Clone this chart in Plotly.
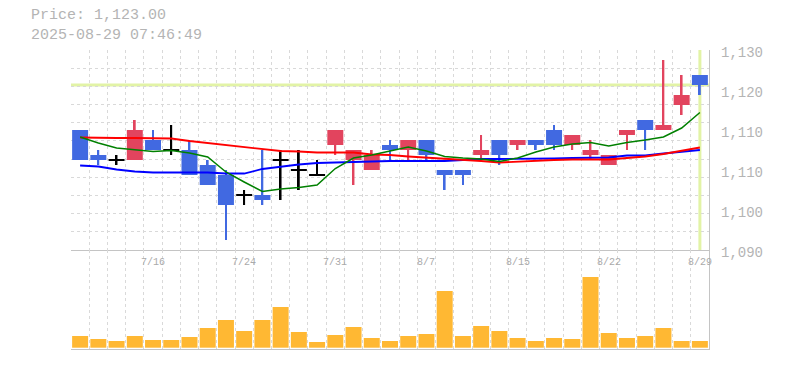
import plotly.graph_objects as go

# ---------------- data ----------------
DATES = ["7/10", "7/11", "7/14", "7/15", "7/16", "7/17", "7/18", "7/22", "7/23", "7/24",
         "7/25", "7/28", "7/29", "7/30", "7/31", "8/1", "8/4", "8/5", "8/6", "8/7",
         "8/8", "8/12", "8/13", "8/14", "8/15", "8/18", "8/19", "8/20", "8/21", "8/22",
         "8/25", "8/26", "8/27", "8/28", "8/29"]

OPEN = [1114, 1109, 1108, 1108, 1112, 1110, 1110, 1107, 1105, 1101,
        1101, 1108, 1106, 1105, 1111, 1108, 1106, 1111, 1110, 1112,
        1106, 1106, 1109, 1112, 1111, 1112, 1114, 1111, 1109, 1107,
        1113, 1116, 1114, 1119, 1125]
HIGH = [1114, 1110, 1109, 1116, 1114, 1115, 1112, 1108, 1106, 1102,
        1110, 1110, 1110, 1108, 1114, 1110, 1110, 1112, 1112, 1112,
        1106, 1106, 1113, 1112, 1112, 1112, 1115, 1113, 1112, 1109,
        1114, 1116, 1128, 1125, 1125]
LOW = [1108, 1107, 1107, 1108, 1110, 1109, 1105, 1103, 1092, 1099,
       1099, 1100, 1102, 1105, 1109, 1103, 1106, 1108, 1108, 1108,
       1102, 1103, 1108, 1107, 1110, 1110, 1110, 1110, 1108, 1107,
       1110, 1110, 1114, 1117, 1121]
CLOSE = [1108, 1108, 1108, 1114, 1110, 1110, 1105, 1103, 1099, 1101,
         1100, 1108, 1106, 1105, 1114, 1110, 1109, 1110, 1112, 1109,
         1105, 1105, 1110, 1109, 1112, 1111, 1111, 1113, 1110, 1109,
         1114, 1114, 1115, 1121, 1123]

VOLUME = [11.7, 8.7, 6.7, 11.7, 7.7, 7.7, 10.7, 19.7, 27.7, 16.7,
          27.7, 40.7, 15.7, 5.7, 12.7, 20.7, 9.7, 6.7, 11.7, 13.7,
          56.7, 11.7, 21.7, 16.7, 9.7, 6.7, 9.7, 8.7, 70.7, 14.7,
          9.7, 11.7, 19.7, 6.7, 6.7]

MA_GREEN = [1112.6, 1111.4, 1110.4, 1110.0, 1109.7, 1109.9, 1109.4, 1108.6, 1105.6, 1103.6,
            1101.7, 1102.2, 1102.5, 1103.0, 1106.3, 1108.4, 1109.0, 1109.8, 1110.6, 1109.8,
            1108.7, 1108.4, 1108.2, 1107.7, 1108.4, 1109.6, 1110.6, 1111.2, 1111.5, 1110.8,
            1111.5, 1112.0, 1112.6, 1114.4, 1117.5]
MA_RED = [1112.5, 1112.4, 1112.4, 1112.4, 1112.4, 1112.3, 1111.8, 1111.4, 1110.9, 1110.5,
          1110.1, 1109.8, 1109.7, 1109.5, 1109.5, 1109.5, 1109.1, 1109.0, 1108.7, 1108.5,
          1108.3, 1108.0, 1107.8, 1107.5, 1107.7, 1107.8, 1108.0, 1108.1, 1108.1, 1108.1,
          1108.4, 1108.7, 1109.2, 1109.9, 1110.5]
MA_BLUE = [1106.9, 1106.7, 1106.1, 1105.7, 1105.5, 1105.5, 1105.5, 1105.5, 1105.3, 1105.3,
           1106.2, 1106.7, 1107.1, 1107.4, 1107.5, 1107.7, 1107.8, 1107.8, 1107.8, 1107.8,
           1107.8, 1108.0, 1108.2, 1108.2, 1108.2, 1108.3, 1108.3, 1108.4, 1108.5, 1108.5,
           1108.9, 1108.9, 1109.3, 1109.7, 1110.0]

LAST_PRICE = 1123
TITLE_LINE1 = "Price: 1,123.00"
TITLE_LINE2 = "2025-08-29 07:46:49"

Y_TICK_VALUES = [1130, 1122, 1114, 1106, 1098, 1090]
Y_TICK_LABELS = ["1,130", "1,120", "1,110", "1,110", "1,100", "1,090"]
DATE_LABELS = ["7/16", "7/24", "7/31", "8/7", "8/15", "8/22", "8/29"]

PRICE_RANGE = [1090, 1130]

# ---------------- styles ----------------
UP_COLOR = "#e2445e"
DOWN_COLOR = "#4169e1"
DOJI_COLOR = "#000000"
VOL_COLOR = "#ffb833"
GRID_COLOR = "#d9d9d9"
AXIS_COLOR = "#c4c4c4"
CROSS_COLOR = "#e2f3a6"
TEXT_GRAY = "#b4b4b4"
FONT = "Liberation Mono, DejaVu Sans Mono, monospace"

SPLIT = (349 - 250) / 299.0

def candle_color(o, c):
    if c > o:
        return UP_COLOR
    if c < o:
        return DOWN_COLOR
    return DOJI_COLOR

colors = [candle_color(o, c) for o, c in zip(OPEN, CLOSE)]
body_base = [min(o, c) if o != c else o - 0.17 for o, c in zip(OPEN, CLOSE)]
body_h = [abs(c - o) if o != c else 0.34 for o, c in zip(OPEN, CLOSE)]
wick_h = [h - l for h, l in zip(HIGH, LOW)]

fig = go.Figure()

for vals, col, w in [(MA_BLUE, "#0000ff", 1.8), (MA_RED, "#ff0000", 1.8), (MA_GREEN, "#008000", 1.5)]:
    fig.add_trace(go.Scatter(x=DATES, y=vals, mode="lines", line=dict(color=col, width=w),
                             xaxis="x", yaxis="y", hoverinfo="skip"))

fig.add_trace(go.Bar(x=DATES, y=wick_h, base=LOW, width=0.1, marker=dict(color=colors, line=dict(width=0)),
                     xaxis="x", yaxis="y", hoverinfo="skip"))
fig.add_trace(go.Bar(x=DATES, y=body_h, base=body_base, width=0.877,
                     marker=dict(color=colors, line=dict(width=0)),
                     xaxis="x", yaxis="y", hoverinfo="skip"))
fig.add_trace(go.Bar(x=DATES, y=VOLUME, width=0.877, marker=dict(color=VOL_COLOR, line=dict(width=0)),
                     xaxis="x2", yaxis="y2", hoverinfo="skip"))

xcommon = dict(type="category", categoryorder="array", categoryarray=DATES,
               range=[-0.5, len(DATES) - 0.5], tickmode="linear", tick0=0, dtick=1,
               tickson="boundaries", showgrid=True, gridcolor=GRID_COLOR, griddash="3px,3px",
               gridwidth=1, showticklabels=False, ticks="", zeroline=False,
               showline=True, linecolor=AXIS_COLOR, linewidth=1)

annotations = []
for v, t in zip(Y_TICK_VALUES, Y_TICK_LABELS):
    annotations.append(dict(x=1, xref="paper", y=v, yref="y", text=t, showarrow=False,
                            xanchor="left", yanchor="middle", xshift=10, yshift=-3,
                            font=dict(family=FONT, size=14, color=TEXT_GRAY)))
for d in DATE_LABELS:
    annotations.append(dict(x=d, xref="x", y=(349 - 262.2) / 299.0, yref="paper", text=d,
                            showarrow=False, xanchor="center", yanchor="middle",
                            font=dict(family=FONT, size=10, color="#aaaaaa")))
annotations.append(dict(x=(29.3 - 71) / 638.0, xref="paper", y=(349 - 25.8) / 299.0, yref="paper",
                        text=TITLE_LINE1 + "<br>" + TITLE_LINE2, showarrow=False,
                        xanchor="left", yanchor="middle", align="left",
                        font=dict(family=FONT, size=15, color=TEXT_GRAY)))

shapes = [
    dict(type="line", xref="x domain", x0=0, x1=1, yref="y", y0=LAST_PRICE, y1=LAST_PRICE,
         line=dict(color=CROSS_COLOR, width=3), layer="below"),
    dict(type="line", xref="x", x0=DATES[-1], x1=DATES[-1], yref="y domain", y0=0, y1=1,
         line=dict(color=CROSS_COLOR, width=3), layer="below"),
]

fig.update_layout(
    width=785, height=370,
    margin=dict(l=71, r=76, t=50, b=21, pad=0),
    paper_bgcolor="white", plot_bgcolor="white",
    showlegend=False, barmode="overlay", hovermode=False,
    xaxis=dict(domain=[0, 1], anchor="y", **xcommon),
    xaxis2=dict(domain=[0, 1], anchor="y2", matches="x", **xcommon),
    yaxis=dict(domain=[SPLIT, 1], anchor="x", side="right", range=PRICE_RANGE,
               tickmode="linear", tick0=PRICE_RANGE[0], dtick=(PRICE_RANGE[1] - PRICE_RANGE[0]) / 11.0,
               showgrid=True, gridcolor=GRID_COLOR, griddash="3px,3px", gridwidth=1,
               showticklabels=False, ticks="", zeroline=False,
               showline=True, linecolor=AXIS_COLOR, linewidth=1),
    yaxis2=dict(domain=[0, SPLIT], anchor="x2", side="right", range=[-1.3, 97.7],
                showgrid=False, showticklabels=False, ticks="", zeroline=False,
                showline=True, linecolor=AXIS_COLOR, linewidth=1),
    annotations=annotations,
    shapes=shapes,
)

fig.write_html("out.html")
